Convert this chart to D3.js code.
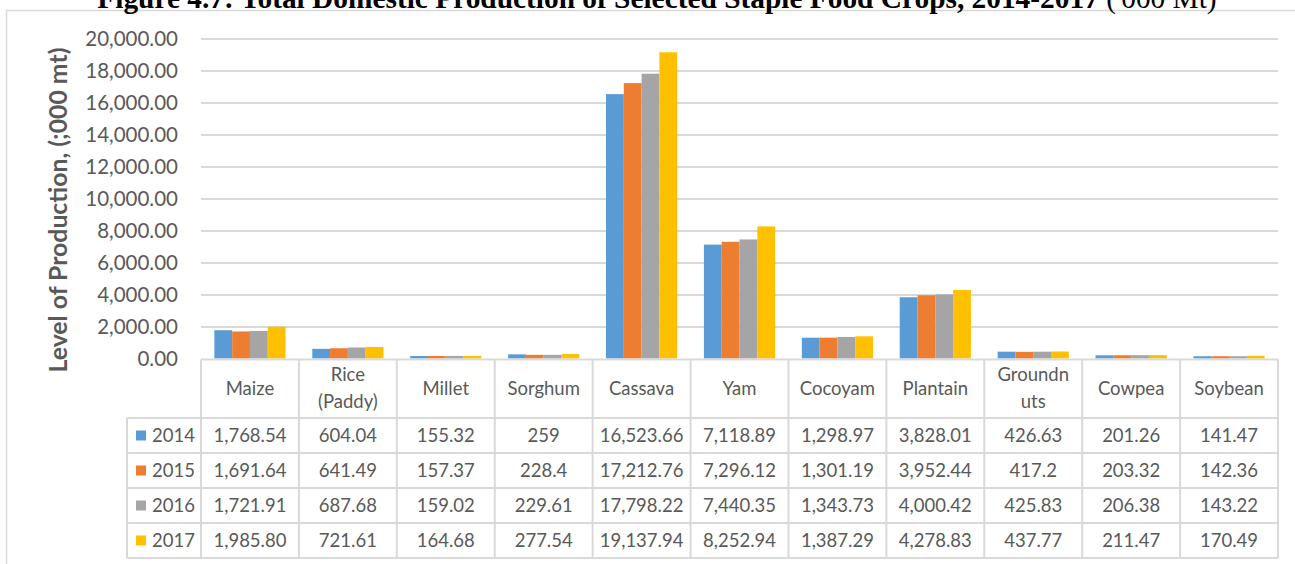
<!DOCTYPE html>
<html>
<head>
<meta charset="utf-8">
<script src="https://cdn.jsdelivr.net/npm/d3@7"></script>
<style>
  html, body { margin: 0; padding: 0; background: #fff; overflow: hidden; }
  svg { display: block; }
</style>
</head>
<body>
<svg id="chart" width="1295" height="564"></svg>
<script>
// Crops shown in the data table (line breaks follow the header cell wrapping)
const categories = ["Maize", "Rice (Paddy)", "Millet", "Sorghum", "Cassava", "Yam",
  "Cocoyam", "Plantain", "Groundnuts", "Cowpea", "Soybean"];
const categoryLabels = ["Maize", "Rice\n(Paddy)", "Millet", "Sorghum", "Cassava", "Yam",
  "Cocoyam", "Plantain", "Groundn\nuts", "Cowpea", "Soybean"];

const years = ["2014", "2015", "2016", "2017"];
const colors = ["#5B9BD5", "#ED7D31", "#A5A5A5", "#FFC000"];

// Production, '000 mt
const v2014 = [1768.54, 604.04, 155.32, 259, 16523.66, 7118.89, 1298.97, 3828.01, 426.63, 201.26, 141.47];
const v2015 = [1691.64, 641.49, 157.37, 228.4, 17212.76, 7296.12, 1301.19, 3952.44, 417.2, 203.32, 142.36];
const v2016 = [1721.91, 687.68, 159.02, 229.61, 17798.22, 7440.35, 1343.73, 4000.42, 425.83, 206.38, 143.22];
const v2017 = [1985.80, 721.61, 164.68, 277.54, 19137.94, 8252.94, 1387.29, 4278.83, 437.77, 211.47, 170.49];
const series = [v2014, v2015, v2016, v2017];

const yTicks = [0, 2000, 4000, 6000, 8000, 10000, 12000, 14000, 16000, 18000, 20000];

const titleMain = "Figure 4.7: Total Domestic Production of Selected Staple Food Crops, 2014-2017 ";
const titleUnit = "('000 Mt)";
const yLabel = "Level of Production, (;000 mt)";

// ---- layout ----
const svg = d3.select("#chart");
const W = 1295, H = 564;
const plotL = 201, plotR = 1278, plotT = 38.5, plotB = 358.5;
const headerB = 418, rowH = 35, legendL = 127;
const grid = "#D9D9D9", ink = "#595959";
const font = "Lato, 'Open Sans', sans-serif";
const tableSize = 18.5;

svg.append("rect").attr("width", W).attr("height", H).attr("fill", "#fff");

// chart area border
svg.append("rect")
  .attr("x", 6.5).attr("y", 10.5).attr("width", W + 20).attr("height", H + 20)
  .attr("fill", "none").attr("stroke", grid).attr("stroke-width", 1.5);

// title (cut by the top edge)
const title = svg.append("text")
  .attr("x", 657).attr("y", 8)
  .attr("text-anchor", "middle")
  .attr("font-family", "'Liberation Serif', 'Times New Roman', serif")
  .attr("font-size", 20).attr("fill", "#000");
title.append("tspan").attr("font-weight", "bold").text(titleMain);
title.append("tspan").text(titleUnit);
{
  const w = title.node().getComputedTextLength();
  title.attr("font-size", 20 * 1120 / w);
}

// scales
const x = d3.scaleBand().domain(categories).range([plotL, plotR]).paddingInner(0).paddingOuter(0);
const bw = x.bandwidth();
const groupW = bw * 0.727;
const x1 = d3.scaleBand().domain(years).range([(bw - groupW) / 2, (bw + groupW) / 2]).padding(0);
const y = d3.scaleLinear().domain([0, 20000]).range([plotB, plotT]);

// gridlines via axis
const yAxis = d3.axisLeft(y).tickValues(yTicks).tickFormat(d3.format(",.2f"))
  .tickSize(-(plotR - plotL)).tickPadding(23);
const ga = svg.append("g").attr("transform", `translate(${plotL},0)`).call(yAxis);
ga.select(".domain").remove();
ga.selectAll(".tick line").attr("stroke", grid).attr("stroke-width", 2)
  .filter(d => d === 0).remove();
ga.selectAll(".tick text").attr("font-family", font).attr("font-size", 20.5)
  .attr("fill", ink);

// y-axis title
const yl = svg.append("text")
  .attr("transform", "translate(58,210) rotate(-90)")
  .attr("text-anchor", "middle").attr("dy", "0.35em")
  .attr("font-family", font).attr("font-weight", "bold")
  .attr("font-size", 20).attr("fill", ink).text(yLabel);
{
  const w = yl.node().getComputedTextLength();
  yl.attr("font-size", 20 * 325 / w);
}

// bars
const barData = [];
series.forEach((vals, si) => vals.forEach((v, ci) =>
  barData.push({ cat: categories[ci], year: years[si], value: v, color: colors[si] })));
svg.append("g").selectAll("rect").data(barData).join("rect")
  .attr("x", d => x(d.cat) + x1(d.year))
  .attr("width", x1.bandwidth())
  .attr("y", d => y(d.value))
  .attr("height", d => y(0) - y(d.value))
  .attr("fill", d => d.color);

// ---- data table ----
const fmt = v => v >= 1000 ? d3.format(",.2f")(v) : String(v);
const tb = svg.append("g");
const tableB = headerB + rowH * years.length;
const line = (x1_, y1_, x2_, y2_) => tb.append("line")
  .attr("x1", x1_).attr("y1", y1_).attr("x2", x2_).attr("y2", y2_)
  .attr("stroke", grid).attr("stroke-width", 2);

// horizontal rules
line(plotL, plotB + 1, plotR, plotB + 1);
for (let r = 0; r <= years.length; r++) line(legendL, headerB + r * rowH, plotR, headerB + r * rowH);
// vertical rules
line(legendL, headerB, legendL, tableB);
categories.forEach(c => line(x(c), plotB + 1, x(c), tableB));
line(plotR, plotB + 1, plotR, tableB);

// header labels
const headerMid = (plotB + headerB) / 2;
categoryLabels.forEach((lab, i) => {
  const lines = lab.split("\n");
  const cx = x(categories[i]) + bw / 2;
  const t = tb.append("text").attr("text-anchor", "middle")
    .attr("font-family", font).attr("font-size", tableSize).attr("fill", ink);
  lines.forEach((ln, j) => {
    t.append("tspan").attr("x", cx)
      .attr("y", headerMid + (j - (lines.length - 1) / 2) * 27)
      .attr("dy", "0.35em").text(ln);
  });
});

// rows
years.forEach((yr, si) => {
  const cy = headerB + si * rowH + rowH / 2;
  tb.append("rect").attr("x", 136).attr("y", cy - 5).attr("width", 10).attr("height", 10)
    .attr("fill", colors[si]);
  tb.append("text").attr("x", 152).attr("y", cy).attr("dy", "0.35em")
    .attr("font-family", font).attr("font-size", tableSize).attr("fill", ink).text(yr);
  series[si].forEach((v, ci) => {
    tb.append("text").attr("x", x(categories[ci]) + bw / 2).attr("y", cy).attr("dy", "0.35em")
      .attr("text-anchor", "middle")
      .attr("font-family", font).attr("font-size", tableSize).attr("fill", ink).text(fmt(v));
  });
});
</script>
</body>
</html>
